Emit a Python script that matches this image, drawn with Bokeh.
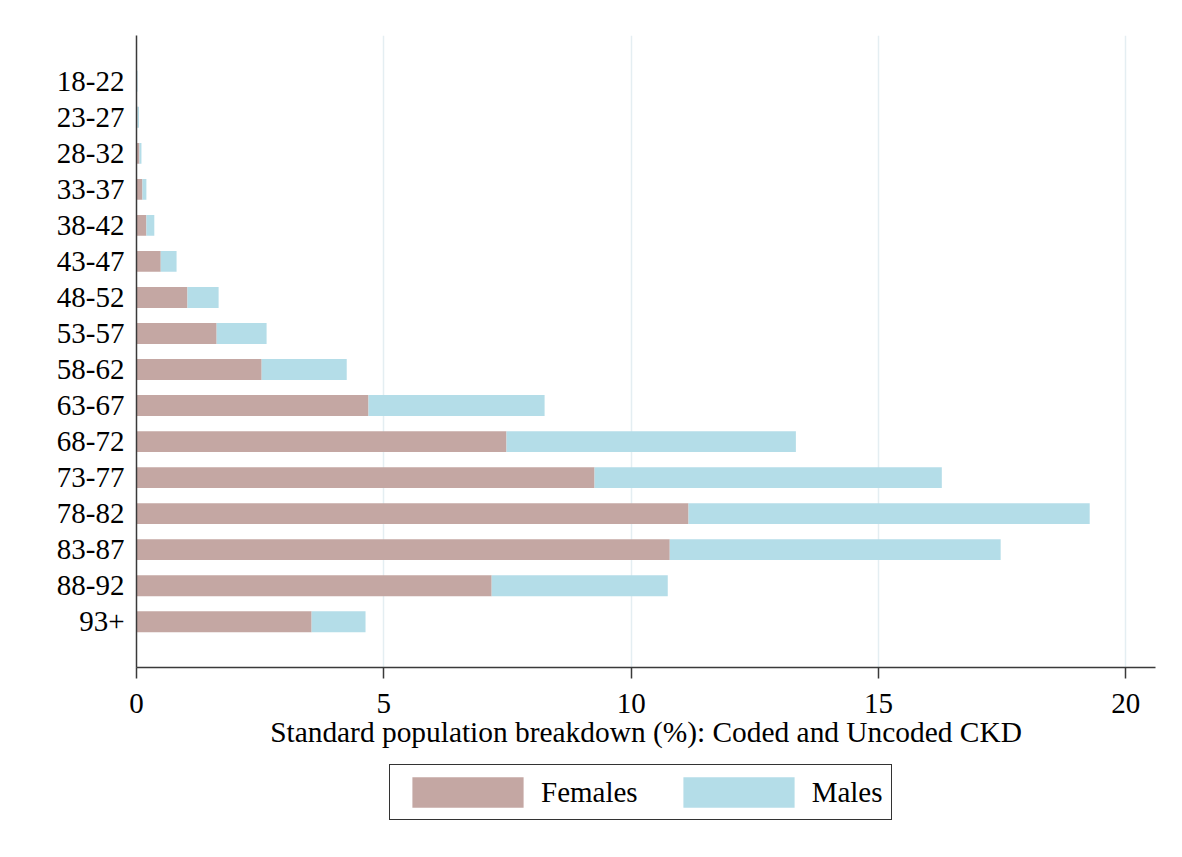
from bokeh.plotting import figure
from bokeh.models import ColumnDataSource, FactorRange, Range1d, FixedTicker, Legend, LegendItem
from bokeh.layouts import column
from bokeh.embed import file_html
from bokeh.resources import INLINE

age_groups = ["18-22", "23-27", "28-32", "33-37", "38-42", "43-47", "48-52", "53-57",
              "58-62", "63-67", "68-72", "73-77", "78-82", "83-87", "88-92", "93+"]
females = [0.01, 0.02, 0.06, 0.12, 0.20, 0.49, 1.03, 1.62,
           2.53, 4.69, 7.48, 9.26, 11.16, 10.78, 7.18, 3.54]
males = [0.01, 0.03, 0.04, 0.08, 0.16, 0.32, 0.63, 1.01,
         1.72, 3.56, 5.85, 7.02, 8.11, 6.69, 3.56, 1.09]
x_ticks = [0, 5, 10, 15, 20]
series = ["Females", "Males"]

FONT = "Liberation Serif"
COLORS = ["#c4a7a3", "#b4dde8"]

src = ColumnDataSource(dict(age=age_groups, Females=females, Males=males))

W = 1170
p = figure(width=W, height=760, output_backend="svg", toolbar_location=None,
           y_range=FactorRange(factors=age_groups[::-1], range_padding=0.77,
                               range_padding_units="absolute"),
           x_range=Range1d(0, 20.6),
           min_border_left=136, min_border_right=15, min_border_top=35,
           min_border_bottom=93)

p.hbar_stack(series, y="age", height=0.58, color=COLORS, line_color=None, source=src)

p.outline_line_color = None
p.background_fill_color = "white"
p.border_fill_color = "white"

# grid
p.ygrid.grid_line_color = None
p.xgrid.grid_line_color = "#e4eef2"
p.xgrid.grid_line_width = 1.5
p.xgrid.ticker = FixedTicker(ticks=x_ticks[1:])

# x axis
xa = p.xaxis[0]
xa.ticker = FixedTicker(ticks=x_ticks)
xa.axis_label = "Standard population breakdown (%): Coded and Uncoded CKD"
xa.axis_label_text_font = FONT
xa.axis_label_text_font_size = "29.4px"
xa.axis_label_text_font_style = "normal"
xa.axis_label_text_color = "black"
xa.axis_label_standoff = 0
xa.major_label_text_font = FONT
xa.major_label_text_font_size = "29px"
xa.major_label_text_color = "black"
xa.major_label_standoff = 15
xa.major_tick_out = 11
xa.major_tick_in = 0
xa.minor_tick_line_color = None
xa.axis_line_color = "#3a3a3a"
xa.axis_line_width = 1.5
xa.major_tick_line_color = "#3a3a3a"
xa.major_tick_line_width = 1.5

# y axis
ya = p.yaxis[0]
ya.major_label_text_font = FONT
ya.major_label_text_font_size = "29px"
ya.major_label_text_color = "black"
ya.major_tick_line_color = None
ya.major_tick_out = 0
ya.major_tick_in = 0
ya.minor_tick_line_color = None
ya.major_label_standoff = 12
ya.axis_line_color = "#3a3a3a"
ya.axis_line_width = 1.5

# legend figure below the chart (same frame as the chart)
pl = figure(width=W, height=80, output_backend="svg", toolbar_location=None,
            x_range=Range1d(0, 1), y_range=Range1d(0, 1),
            x_axis_location=None, y_axis_location=None,
            min_border_left=136, min_border_right=15, min_border_top=0, min_border_bottom=0)
pl.grid.visible = False
pl.outline_line_color = None
pl.background_fill_color = "white"
pl.border_fill_color = "white"
# zero-width placeholder bars, only used to draw the legend swatches
swatch_src = ColumnDataSource(dict(y=[-5.0], left=[0.0], right=[0.0]))
leg_renderers = [pl.hbar(y="y", left="left", right="right", height=0.5, color=c,
                         line_color=None, source=swatch_src) for c in COLORS]

legend = Legend(items=[LegendItem(label=s, renderers=[r]) for s, r in zip(series, leg_renderers)],
                orientation="horizontal", location=(253, 20))
legend.label_text_font = FONT
legend.label_text_font_size = "29px"
legend.label_text_color = "black"
legend.glyph_width = 139
legend.glyph_height = 38
legend.label_height = 38
legend.label_standoff = 4
legend.spacing = 31
legend.padding = 8
legend.margin = 0
legend.border_line_color = "#333333"
legend.border_line_alpha = 1
legend.border_line_width = 1.5
legend.background_fill_alpha = 1
pl.add_layout(legend, "center")

layout = column(p, pl, spacing=0)
open("out.html", "w").write(file_html(layout, INLINE))
